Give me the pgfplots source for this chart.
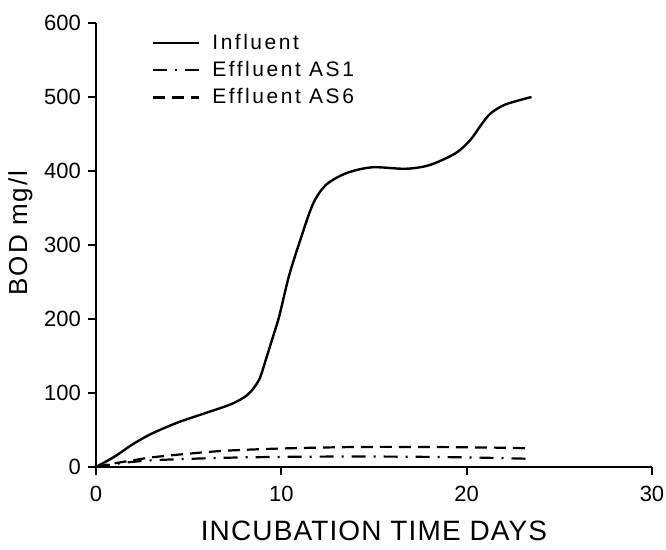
\documentclass[border=0pt]{standalone}
\usepackage{fontspec}
\setmainfont{Liberation Sans}
\usepackage{pgfplots}
\pgfplotsset{compat=1.18}

\begin{document}
\begin{tikzpicture}
\begin{axis}[
    scale only axis,
    width=278pt, height=222pt,
    xmin=0, xmax=30, ymin=0, ymax=600,
    axis lines=left,
    axis line style={-, line width=1pt},
    xtick={0,10,20,30},
    ytick={0,100,...,600},
    tick align=outside,
    major tick length=4pt,
    tick style={line width=0.9pt, black},
    /pgf/number format/assume math mode=true,
    ticklabel style={font=\fontsize{11}{13}\selectfont},
    xticklabel style={yshift=-2pt},
    xlabel={\addfontfeatures{LetterSpace=4}INCUBATION TIME DAYS},
    ylabel={\addfontfeatures{LetterSpace=8}BOD mg/l},
    xlabel style={font=\fontsize{14}{16}\selectfont, yshift=-3pt},
    ylabel style={font=\fontsize{13}{15}\selectfont, yshift=-1pt, xshift=6pt},
    legend style={at={(0.1,0.985)}, anchor=north west, draw=none, fill=none,
        font=\fontsize{10.5}{12}\selectfont\addfontfeatures{LetterSpace=12},
        row sep=0.5pt, inner sep=0pt},
    legend cell align=left,
    legend image code/.code={\draw[#1] (0pt,0pt) -- (23pt,0pt); \path (27pt,0pt);},
]
% Influent
\addplot[black, line width=1.2pt, smooth, tension=0.5] coordinates {
(0,0) (1,14) (2,31) (3,45) (4.4,60) (5.8,72) (7.3,85) (8.2,98)
(8.8,118) (9.2,148) (9.6,180) (9.9,205) (10.4,257) (11.0,305) (11.7,355)
(12.4,381) (13.5,397) (14.9,405) (16.7,403) (18.0,408) (19.4,424)
(20.2,442) (20.8,463) (21.3,478) (22.1,490) (23.5,500)
};
% Effluent AS1
\addplot[black, line width=1.1pt, smooth,
    dash pattern=on 7pt off 4pt on 1pt off 4pt] coordinates {
(0,0) (1,4) (2,7) (3,9) (5,11) (8,13) (12,14) (16,14) (20,13) (23.5,11)
};
% Effluent AS6
\addplot[black, line width=1.1pt, smooth,
    dash pattern=on 6pt off 3.5pt] coordinates {
(0,0) (1,5) (2,9) (3,13) (5,18) (7,22) (10,25) (14,27) (18,27) (22,26) (23.5,25)
};
\legend{Influent, Effluent AS1, Effluent AS6}
\end{axis}
\pgfresetboundingbox
\path (-48pt,-41.5pt) rectangle (285pt,233.5pt);
\end{tikzpicture}
\end{document}
